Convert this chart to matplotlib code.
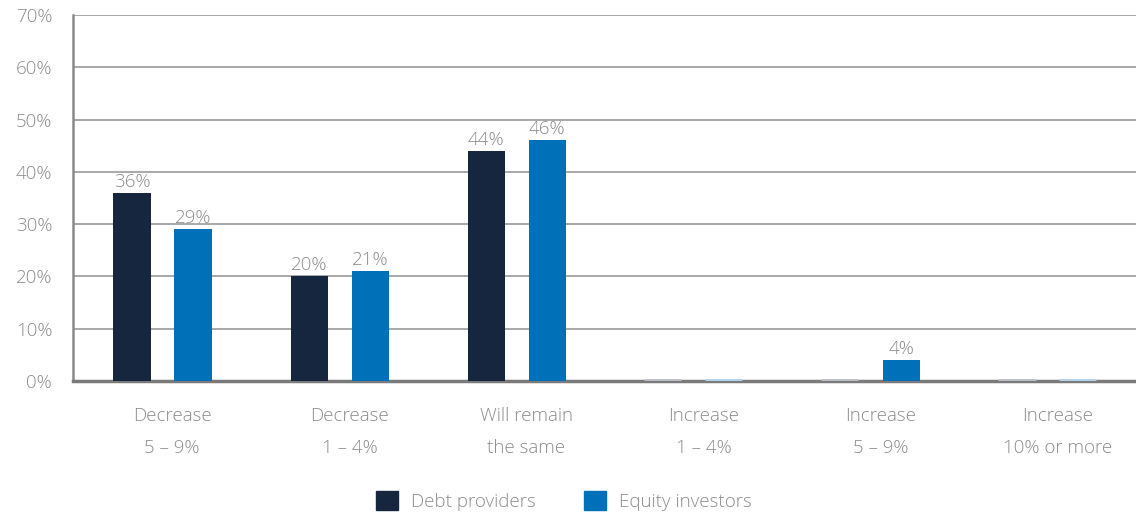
import matplotlib.pyplot as plt
import numpy as np
from matplotlib.patches import Patch

plt.rcParams['font.family'] = ['Open Sans', 'DejaVu Sans']

categories = ["Decrease\n5 – 9%", "Decrease\n1 – 4%", "Will remain\nthe same",
              "Increase\n1 – 4%", "Increase\n5 – 9%", "Increase\n10% or more"]
debt = [36, 20, 44, 0, 0, 0]
equity = [29, 21, 46, 0, 4, 0]

c_debt = '#17263f'
c_equity = '#0070b8'
c_debt_light = '#b8bec8'
c_equity_light = '#b0d2ec'
txt = '#8c8c8c'

fig = plt.figure(figsize=(11.36, 5.12), dpi=100)
ax = fig.add_axes([73/1136, 1-381/512, 1-73/1136, (381-15)/512])

x = np.arange(len(categories))
w = 0.21
off = 0.172

for i in range(len(categories)):
    for val, xo, col, lcol in [(debt[i], -off, c_debt, c_debt_light),
                               (equity[i], off, c_equity, c_equity_light)]:
        if val > 0:
            ax.bar(x[i] + xo + 0.005, val, width=w, color=col, zorder=3)
            ax.text(x[i] + xo + 0.005, val + 0.4, f"{val}%", ha='center', va='bottom',
                    color=txt, fontsize=13.5, fontweight='light')
        else:
            ax.plot([x[i] + xo - w/2, x[i] + xo + w/2], [0.25, 0.25],
                    color=lcol, lw=2, zorder=3, solid_capstyle='butt')

ax.set_xlim(-0.5, 5.5)
ax.set_ylim(0, 70)
ax.set_yticks(range(0, 71, 10))
ax.set_yticklabels([f"{v}%" for v in range(0, 71, 10)])
ax.yaxis.grid(True, color='#9a9a9a', lw=1.2, zorder=0)
ax.set_xticks(x + 0.06)
ax.set_xticklabels(categories, linespacing=1.95)
ax.tick_params(length=0, labelcolor=txt, labelsize=13.5)
ax.tick_params(axis='x', pad=19)
ax.tick_params(axis='y', pad=15)
for lab in ax.get_xticklabels() + ax.get_yticklabels():
    lab.set_fontweight('light')
for s in ['top', 'right']:
    ax.spines[s].set_visible(False)
ax.spines['left'].set_color('#8a8a8a')
ax.spines['left'].set_linewidth(1.8)
ax.spines['bottom'].set_color('#7a7a7a')
ax.spines['bottom'].set_linewidth(2.5)

handles = [Patch(color=c_debt, label='Debt providers'),
           Patch(color=c_equity, label='Equity investors')]
leg = fig.legend(handles=handles, loc='center', bbox_to_anchor=(564/1136, 1-501/512),
                 ncol=2, frameon=False, fontsize=13.5, handlelength=1.15, handleheight=1.15,
                 columnspacing=2.6, handletextpad=0.7)
for t in leg.get_texts():
    t.set_color(txt)
    t.set_fontweight('light')

fig.savefig('out.png', dpi=100)
